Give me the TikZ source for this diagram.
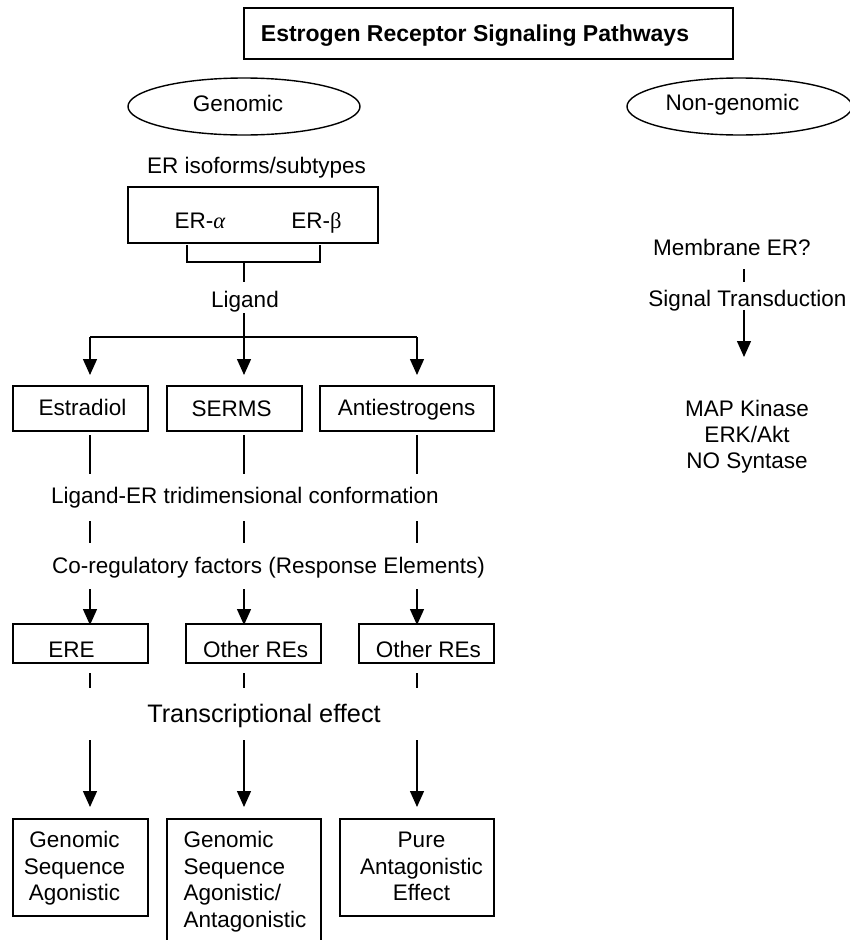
\documentclass[tikz,border=0pt]{standalone}
\usepackage{fontspec}
\setmainfont{Liberation Sans}
\newfontfamily\grk{Liberation Serif}
\usetikzlibrary{arrows.meta,shapes.geometric}
\begin{document}
\begin{tikzpicture}[x=1pt,y=-1pt,line width=1.4pt,
  txt/.style={inner sep=0pt,text height=16.1pt,text depth=0pt,font=\fontsize{22.5}{26.5}\selectfont},
  mtxt/.style={inner sep=0pt,font=\fontsize{22.5}{26.5}\selectfont},
  boxn/.style={draw,inner sep=0pt,rectangle},
  ell/.style={draw,ellipse,inner sep=0pt,minimum height=57pt},
  arr/.style={-{Triangle[width=14pt,length=16pt]}}]
\useasboundingbox (0,0) rectangle (850,940);
\clip (0,0) rectangle (850,940);
% title
\node[boxn,minimum width=489pt,minimum height=51pt] (titlebox) at (488.5,33.5) {};
\node[txt,font=\fontsize{23}{27}\selectfont\bfseries,text height=16.5pt] (title) at (475,33) {Estrogen Receptor Signaling Pathways};
% ellipses
\node[ell,minimum width=232pt] (genell) at (244,106.5) {};
\node[txt] (gen) at (238,103) {Genomic};
\node[ell,minimum width=225pt] (nonell) at (739.5,106.5) {};
\node[txt] (non) at (732.5,102) {Non-genomic};
% ER
\node[txt] (iso) at (256.5,165) {ER isoforms/subtypes};
\node[boxn,minimum width=250pt,minimum height=56pt] (erbox) at (253,215) {};
\node[txt] (era) at (200,220) {ER-{\grk\itshape α}};
\node[txt] (erb) at (316.5,220) {ER-{\grk β}};
\coordinate (bl) at (187,245);
\coordinate (br) at (320,245);
\coordinate (bs) at (244,262);
\draw (bl) -- (bl |- bs) -- (br |- bs) -- (br);
\node[txt] (lig) at (245,299) {Ligand};
\coordinate (ligtop) at (244,282);
\coordinate (ligbot) at (244,313);
\draw (bs) -- (ligtop);
\coordinate (hub) at (244,337);
\draw (ligbot) -- (hub);
% ligand boxes
\node[boxn,minimum width=135pt,minimum height=45pt] (b1) at (80.5,408.5) {};
\node[boxn,minimum width=135pt,minimum height=45pt] (b2) at (234.5,408.5) {};
\node[boxn,minimum width=174pt,minimum height=45pt] (b3) at (407,408.5) {};
\node[txt] (estr) at (82.5,407) {Estradiol};
\node[txt] (serm) at (231.7,408) {SERMS};
\node[txt] (anti) at (406.7,407) {Antiestrogens};
\coordinate (c1) at (90,337);
\coordinate (c3) at (417,337);
\draw (c1) -- (c3);
\draw[arr] (c1) -- (90,375);
\draw[arr] (hub) -- (244,375);
\draw[arr] (c3) -- (417,375);
% conformation
\node[txt] (conf) at (245,495) {Ligand-ER tridimensional conformation};
\node[txt] (coreg) at (268.5,565) {Co-regulatory factors (Response Elements)};
\foreach \x in {90,244,417}{
  \draw (\x,435) -- (\x,474);
  \draw (\x,521) -- (\x,543);
  \draw[arr] (\x,589) -- (\x,625);
  \draw (\x,673) -- (\x,688);
  \draw[arr] (\x,740) -- (\x,807);
}
% RE boxes
\node[boxn,minimum width=135pt,minimum height=39pt] (r1) at (80.5,643.5) {};
\node[boxn,minimum width=135pt,minimum height=39pt] (r2) at (253.5,643.5) {};
\node[boxn,minimum width=135pt,minimum height=39pt] (r3) at (426.5,643.5) {};
\node[txt] (ere) at (71.5,649) {ERE};
\node[txt] (ore1) at (255.7,649) {Other REs};
\node[txt] (ore2) at (428.3,649) {Other REs};
\node[txt,font=\fontsize{25.3}{30}\selectfont,text height=18.1pt] (trans) at (264,713) {Transcriptional effect};
% effect boxes
\node[boxn,minimum width=135pt,minimum height=97pt] (e1) at (80.5,867.5) {};
\node[boxn,minimum width=154pt,minimum height=150pt] (e2) at (244,894) {};
\node[boxn,minimum width=154pt,minimum height=97pt] (e3) at (417,867.5) {};
\node[mtxt,align=center] (t1) at (74.5,868.5) {Genomic\\Sequence\\Agonistic};
\node[mtxt,align=left,anchor=west] (t2) at (183,881.5) {Genomic\\Sequence\\Agonistic/\\Antagonistic};
\node[mtxt,align=center] (t3) at (421.5,866.5) {Pure\\Antagonistic\\Effect};
% non-genomic
\node[txt] (mem) at (732,247) {Membrane ER?};
\node[txt] (sig) at (747.5,298) {Signal Transduction};
\coordinate (m1) at (744,269);
\coordinate (m2) at (744,282);
\draw (m1) -- (m2);
\coordinate (s1) at (744,310);
\coordinate (s2) at (744,357);
\draw[arr] (s1) -- (s2);
\node[mtxt,align=center,font=\fontsize{22.5}{26}\selectfont] (map) at (747,436.4) {MAP Kinase\\ERK/Akt\\NO Syntase};
\end{tikzpicture}
\end{document}
